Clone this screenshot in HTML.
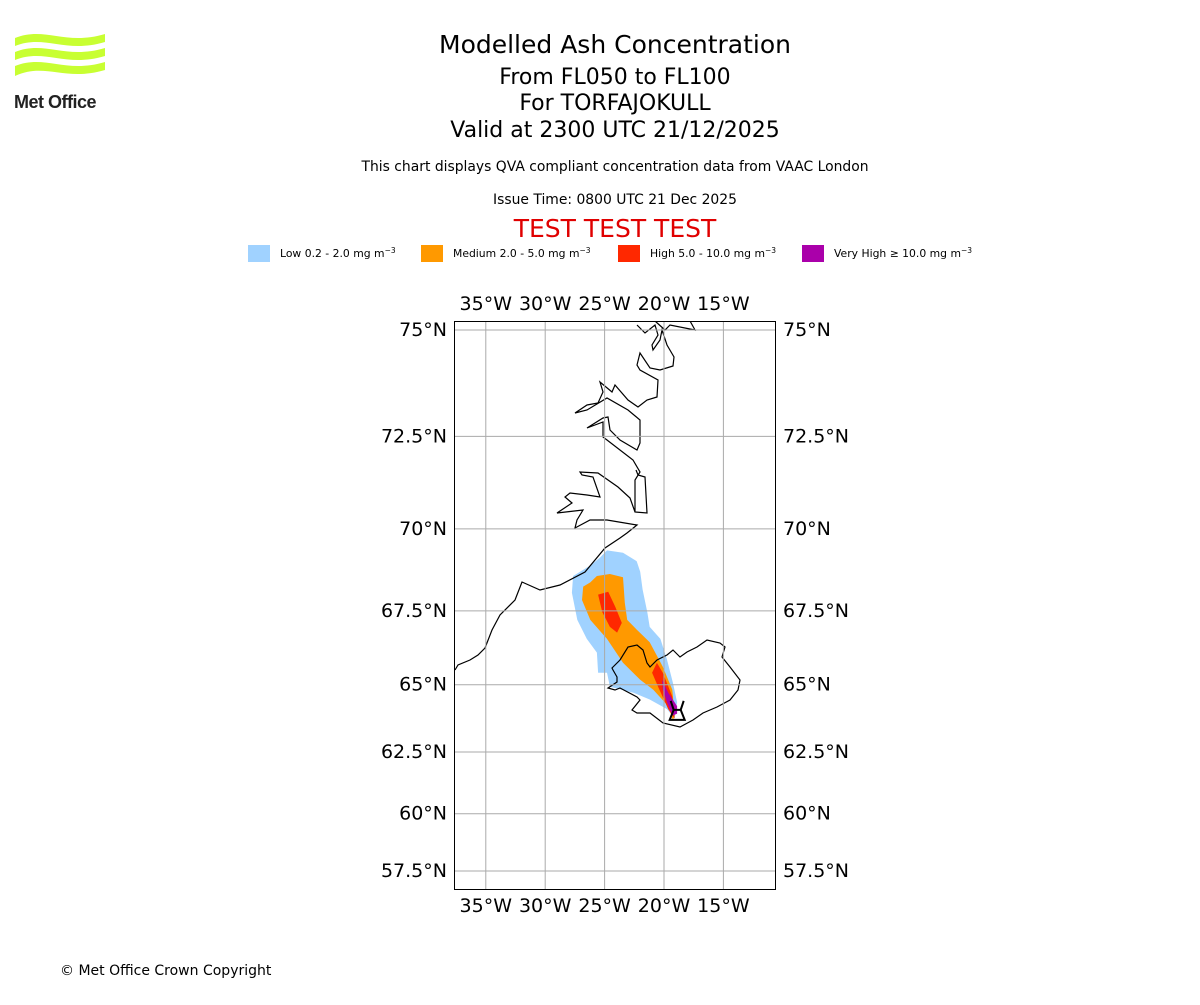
<!DOCTYPE html>
<html><head><meta charset="utf-8"><style>
body{margin:0;background:#fff;width:1200px;height:1000px;overflow:hidden;font-family:"Liberation Sans","DejaVu Sans",sans-serif}
</style></head><body>
<svg width="1200" height="1000" xmlns="http://www.w3.org/2000/svg" font-family="DejaVu Sans, Liberation Sans, sans-serif">
<g fill="#c8ff32">
<path d="M15 38 C45 26, 65 46, 105 34 L105 42 C65 54, 45 34, 15 46 Z"/>
<path d="M15 52 C45 40, 65 60, 105 48 L105 56 C65 68, 45 48, 15 60 Z"/>
<path d="M15 66 C45 54, 65 74, 105 62 L105 70 C65 82, 45 62, 15 76 Z"/>
<text x="14" y="108" font-size="18" font-weight="bold" fill="#222" font-family="Liberation Sans, sans-serif" letter-spacing="-0.5">Met Office</text>
</g>
<g text-anchor="middle" fill="#000">
<text x="615" y="53" font-size="25">Modelled Ash Concentration</text>
<text x="615" y="84" font-size="22">From FL050 to FL100</text>
<text x="615" y="110" font-size="22">For TORFAJOKULL</text>
<text x="615" y="137" font-size="22">Valid at 2300 UTC 21/12/2025</text>
<text x="615" y="171" font-size="13.9">This chart displays QVA compliant concentration data from VAAC London</text>
<text x="615" y="204" font-size="13.9">Issue Time: 0800 UTC 21 Dec 2025</text>
<text x="615" y="237" font-size="25" fill="#e00000">TEST TEST TEST</text>
</g>
<g font-size="10.8">
<rect x="248" y="245" width="22" height="17" fill="#a0d2ff"/><text x="280" y="257">Low 0.2 - 2.0 mg m<tspan font-size="7.5" dy="-4">−3</tspan></text>
<rect x="421" y="245" width="22" height="17" fill="#ff9900"/><text x="453" y="257">Medium 2.0 - 5.0 mg m<tspan font-size="7.5" dy="-4">−3</tspan></text>
<rect x="618" y="245" width="22" height="17" fill="#ff2800"/><text x="650" y="257">High 5.0 - 10.0 mg m<tspan font-size="7.5" dy="-4">−3</tspan></text>
<rect x="802" y="245" width="22" height="17" fill="#aa00aa"/><text x="834" y="257">Very High  ≥  10.0 mg m<tspan font-size="7.5" dy="-4">−3</tspan></text>
</g>
<defs><clipPath id="mapclip"><rect x="454" y="321" width="322" height="569"/></clipPath></defs>
<g id="map" clip-path="url(#mapclip)"></g>
<g id="axes" font-size="19"></g>
<rect x="454.5" y="321.5" width="321" height="568" fill="none" stroke="#000" stroke-width="1"/>
<text x="60" y="975" font-size="14">© Met Office Crown Copyright</text>
</svg>
<script>
const lonTicks=[-35,-30,-25,-20,-15];
const latTicks=[75,72.5,70,67.5,65,62.5,60,57.5];
const lonLabels=["35°W","30°W","25°W","20°W","15°W"];
const latLabels=["75°N","72.5°N","70°N","67.5°N","65°N","62.5°N","60°N","57.5°N"];
const lowAsh=[[-24.8,69.37],[-23.45,69.3],[-22.3,69.05],[-22.0,68.73],[-21.8,68.18],[-21.4,67.44],[-21.2,66.98],[-20.3,66.58],[-19.75,65.88],[-19.25,65.07],[-18.9,64.37],[-19.1,63.77],[-19.75,64.12],[-21.2,64.47],[-22.6,64.72],[-24.55,64.93],[-24.8,65.42],[-25.55,65.42],[-25.65,66.12],[-26.5,66.58],[-27.3,67.21],[-27.75,68.08],[-27.65,68.6],[-26.2,68.92],[-25.4,69.15]];
const mediumAsh=[[-24.55,68.66],[-23.45,68.56],[-23.3,67.76],[-23.1,67.21],[-22.3,66.89],[-21.2,66.47],[-20.1,65.63],[-19.3,64.82],[-19.1,63.88],[-19.25,63.7],[-19.65,64.23],[-20.9,64.82],[-22.0,65.18],[-23.45,65.77],[-24.8,66.58],[-26.2,67.21],[-26.9,67.85],[-26.8,68.27],[-26.2,68.4],[-25.65,68.6]];
const highAsh1=[[-25.55,68.02],[-24.7,68.11],[-24.1,67.63],[-23.55,67.11],[-23.95,66.79],[-24.55,66.98],[-25.2,67.47]];
const highAsh2=[[-20.6,65.77],[-20.1,65.42],[-19.3,64.58],[-19.1,63.77],[-19.65,64.12],[-20.5,64.93],[-21.0,65.42]];
const veryHighAsh=[[-20.15,65.18],[-19.65,64.72],[-18.9,64.23],[-18.9,63.95],[-19.3,63.88],[-19.75,64.37],[-20.1,64.82]];
const volcano=[-19.1,63.98];

const B=680.7, Y0=330, M75=Math.log(Math.tan(Math.PI/4+75*Math.PI/360));
function xs(lon){return 664+(lon+20)*B*Math.PI/180;}
function ys(lat){return Y0+B*(M75-Math.log(Math.tan(Math.PI/4+lat*Math.PI/360)));}
const NS="http://www.w3.org/2000/svg";
const map=document.getElementById('map'), axes=document.getElementById('axes');
function mk(tag,attrs,parent){const e=document.createElementNS(NS,tag);for(const k in attrs)e.setAttribute(k,attrs[k]);parent.appendChild(e);return e;}
function poly(pts,fill,name){const p=mk('polygon',{points:pts.map(d=>xs(d[0]).toFixed(1)+','+ys(d[1]).toFixed(1)).join(' '),fill:fill},map);

}
poly(lowAsh,'#a0d2ff','ash-low');
poly(mediumAsh,'#ff9900','ash-medium');
poly(highAsh1,'#ff2800','ash-high-north');
poly(highAsh2,'#ff2800','ash-high-south');
poly(veryHighAsh,'#aa00aa','ash-very-high');
const green="M637,325 L645,333 L655,325 L658,335 L652,345 L653,350 L660,340 L662,330 L667,345 L674,357 L673,366 L660,370 L650,368 L640,353 L637,365 L640,370 L658,380 L657,397 L647,400 L638,407 L628,400 L615,385 L612,392 L600,382 L603,392 L598,403 L587,405 L575,413 L587,410 L607,398 L628,410 L640,420 L640,443 L637,450 L620,440 L610,430 L608,417 L603,418 L587,428 L603,422 L603,437 L607,440 L633,460 L640,472 L635,480 L635,512 L647,513 L645,477 L638,475 L636,470 M635,512 L630,498 L618,487 L598,473 L580,472 L582,475 L593,477 L600,497 L587,495 L570,493 L565,497 L572,503 L557,513 L583,510 L577,520 L575,528 L590,520 L607,520 L637,525 L627,533 L620,538 L605,548 L585,572 L560,585 L540,590 L522,582 L515,600 L500,615 L492,630 L485,648 L478,655 L470,660 L458,665 L455,670 M655,321 L665,330 L670,325 L695,330 L690,321";
const ice="M612,668 L620,660 L628,647 L637,645 L643,650 L647,663 L650,667 L657,660 L667,655 L673,650 L680,657 L687,652 L697,647 L707,640 L720,643 L725,647 L722,657 L730,667 L740,680 L738,690 L730,700 L717,707 L703,713 L693,720 L680,727 L663,723 L650,713 L637,713 L632,710 L640,700 L637,697 L620,688 L615,690 L608,688 L617,682 L617,677 L613,670 Z";
const g1=mk('path',{d:green,fill:'none',stroke:'#000','stroke-width':1.2},map);


const g2=mk('path',{d:ice,fill:'none',stroke:'#000','stroke-width':1.2},map);


lonTicks.forEach((lon,i)=>{const x=xs(lon);
const l=mk('line',{x1:x,x2:x,y1:321,y2:890,stroke:'#aaa','stroke-width':1},map);


const t1=mk('text',{x:x,y:310,'text-anchor':'middle'},axes);t1.textContent=lonLabels[i];


const t2=mk('text',{x:x,y:912,'text-anchor':'middle'},axes);t2.textContent=lonLabels[i];

});
latTicks.forEach((lat,i)=>{const y=ys(lat);
const l=mk('line',{x1:454,x2:776,y1:y,y2:y,stroke:'#aaa','stroke-width':1},map);


const t1=mk('text',{x:447,y:y+6,'text-anchor':'end'},axes);t1.textContent=latLabels[i];


const t2=mk('text',{x:783,y:y+6,'text-anchor':'start'},axes);t2.textContent=latLabels[i];

});
const vx=xs(volcano[0]),vy=ys(volcano[1]);
const v=mk('path',{d:`M${vx-5},${vy+7} L${vx+10},${vy+7} L${vx+6},${vy-3} L${vx-1},${vy-3} Z M${vx-1},${vy-3} L${vx-4},${vy-12} M${vx+6},${vy-3} L${vx+9},${vy-12}`,fill:'none',stroke:'#000','stroke-width':2},map);


</script>
</body></html>
